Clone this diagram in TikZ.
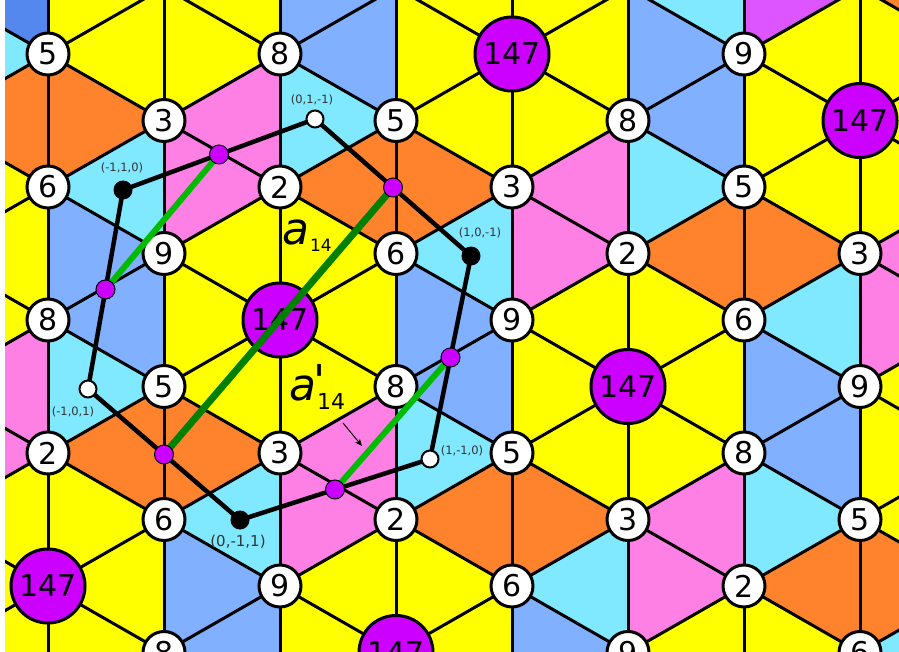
\documentclass[tikz,border=0pt]{standalone}
\usepackage{fontspec}
\setmainfont{DejaVu Sans}
\usetikzlibrary{arrows.meta,calc}
\definecolor{tyellow}{HTML}{FFFF00}
\definecolor{torange}{HTML}{FF832D}
\definecolor{tpink}{HTML}{FF80E4}
\definecolor{tcyan}{HTML}{80E8FF}
\definecolor{tblue}{HTML}{80B0FF}
\definecolor{tdarkblue}{HTML}{5588EE}
\definecolor{tviolet}{HTML}{DD55FF}
\definecolor{tpurple}{HTML}{CC00FF}
\definecolor{dkgreen}{HTML}{008000}
\definecolor{ltgreen}{HTML}{00BB00}
% colours of the two triangle kinds, by label index of the corner
\colorlet{triA0}{tyellow}\colorlet{triA1}{tpink}\colorlet{triA2}{tyellow}
\colorlet{triA3}{torange}\colorlet{triA4}{tblue}\colorlet{triA5}{tcyan}
\colorlet{triA6}{tyellow}
\colorlet{triB0}{tyellow}\colorlet{triB1}{tpink}\colorlet{triB2}{tyellow}
\colorlet{triB3}{tyellow}\colorlet{triB4}{tcyan}\colorlet{triB5}{tblue}
\colorlet{triB6}{torange}
\newcommand{\cellname}[1]{\ifcase#1\relax 147\or 3\or 9\or 5\or 6\or 8\or 2\fi}

\begin{document}
\begin{tikzpicture}[
    x=1pt, y=-1pt,
    edge/.style={line width=3pt, line cap=round},
    site/.style={circle, draw, line width=3pt, fill=white, minimum size=42pt, inner sep=0pt, font=\fontsize{30}{30}\selectfont},
    bigsite/.style={site, fill=tpurple, minimum size=74pt},
    ring/.style={line width=4.5pt},
    bdot/.style={circle, fill=black, minimum size=19pt, inner sep=0pt},
    wdot/.style={circle, draw, fill=white, line width=2pt, minimum size=17pt, inner sep=0pt},
    mdot/.style={circle, draw, fill=tpurple, line width=1pt, minimum size=19pt, inner sep=0pt},
    coordlabel/.style={font=\fontsize{11.5}{12}\selectfont, text=black!80, inner sep=0pt}
]
    \useasboundingbox (0,0) rectangle (899,652);
    \fill[white] (0,0) rectangle (899,652);
    \begin{scope}
    \clip (5,0) rectangle (899,652);

    % Coloured triangles
    \foreach \i in {-1,...,8}{
      \foreach \m in {-3,...,10}{
        \pgfmathtruncatemacro\p{mod(\i+\m+20,2)}
        \ifnum\p=0
          \pgfmathtruncatemacro\a{mod(\i+4*\m+73,7)}
          \pgfmathsetmacro\x{48+116*\i}
          \pgfmathsetmacro\y{54+66.5*\m}
          \fill[triA\a] (\x,\y) -- ++(0,133) -- ++(116,-66.5) -- cycle;
          \fill[triB\a] (\x,\y) -- ++(116,-66.5) -- ++(0,133) -- cycle;
        \fi
      }
    }
    \fill[tdarkblue] (-68,-12.5) -- (48,-79) -- (48,54) -- cycle;
    \fill[tviolet] (744,-79) -- (744,54) -- (860,-12.5) -- cycle;

    % Lattice edges
    \foreach \i in {-1,...,8}{
      \foreach \m in {-3,...,10}{
        \pgfmathtruncatemacro\p{mod(\i+\m+20,2)}
        \ifnum\p=0
          \pgfmathsetmacro\x{48+116*\i}
          \pgfmathsetmacro\y{54+66.5*\m}
          \draw[edge] (\x,\y) -- ++(0,133);
          \draw[edge] (\x,\y) -- ++(116,66.5);
          \draw[edge] (\x,\y) -- ++(116,-66.5);
        \fi
      }
    }

    % Lattice sites
    \foreach \i in {-1,...,8}{
      \foreach \m in {0,...,10}{
        \pgfmathtruncatemacro\p{mod(\i+\m+20,2)}
        \ifnum\p=0
          \pgfmathtruncatemacro\a{mod(\i+4*\m+73,7)}
          \pgfmathsetmacro\x{48+116*\i}
          \pgfmathsetmacro\y{54+66.5*\m}
          \ifnum\a=0
            \node[bigsite] (v\i-\m) at (\x,\y) {147};
          \else
            \node[site] (v\i-\m) at (\x,\y) {\cellname{\a}};
          \fi
        \fi
      }
    }

    % Hexagon of reciprocal vectors
    \coordinate (p01m1) at (315,119);
    \coordinate (pm110) at (123,190);
    \coordinate (pm101) at (88,389);
    \coordinate (p0m11) at (240,520);
    \coordinate (p1m10) at (430,459);
    \coordinate (p10m1) at (471,256);
    \coordinate (mid1) at ($(pm110)!0.5!(p01m1)$);
    \coordinate (mid2) at ($(p01m1)!0.5!(p10m1)$);
    \coordinate (mid3) at ($(p10m1)!0.5!(p1m10)$);
    \coordinate (mid4) at ($(p1m10)!0.5!(p0m11)$);
    \coordinate (mid5) at ($(p0m11)!0.5!(pm101)$);
    \coordinate (mid6) at ($(pm101)!0.5!(pm110)$);
    \draw[ring] (p01m1) -- (p10m1) -- (p1m10) -- (p0m11) -- (pm101) -- (pm110) -- cycle;

    % Green connectors
    \draw[dkgreen, line width=7pt] (mid5) -- (mid2);
    \draw[ltgreen, line width=6pt] (mid1) -- (mid6);
    \draw[ltgreen, line width=6pt] (mid3) -- (mid4);

    % Dots
    \node[wdot] (d01m1) at (p01m1) {};
    \node[bdot] (dm110) at (pm110) {};
    \node[wdot] (dm101) at (pm101) {};
    \node[bdot] (d0m11) at (p0m11) {};
    \node[wdot] (d1m10) at (p1m10) {};
    \node[bdot] (d10m1) at (p10m1) {};
    \foreach \k in {1,...,6}
      \node[mdot] (dmid\k) at (mid\k) {};

    % Labels
    \node[coordlabel] (l01m1) at (312,100) {(0,1,-1)};
    \node[coordlabel] (lm110) at (122,168) {(-1,1,0)};
    \node[coordlabel] (l10m1) at (480,233) {(1,0,-1)};
    \node[coordlabel] (lm101) at (73,412) {(-1,0,1)};
    \node[coordlabel] (l1m10) at (462,451) {(1,-1,0)};
    \node[coordlabel, font=\fontsize{15}{16}\selectfont] (l0m11) at (238,542) {(0,-1,1)};

    \node[anchor=base west, inner sep=0pt] (a14) at (282,245)
      {\fontsize{44}{44}\selectfont\itshape a\upshape\kern1pt\raisebox{-7pt}{\fontsize{17}{17}\selectfont 14}};
    \node[anchor=base west, inner sep=0pt] (a14p) at (289,400)
      {\fontsize{44}{44}\selectfont\itshape a\rlap{\kern-3pt\upshape\raisebox{4pt}{\textquotesingle}}\upshape\kern1pt\raisebox{-9pt}{\fontsize{22}{22}\selectfont 14}};

    \coordinate (arrtail) at (343,423);
    \coordinate (arrhead) at (362,446);
    \draw[line width=1pt, -{Stealth[length=7pt, width=6pt, inset=2pt]}] (arrtail) -- (arrhead);
    \end{scope}
\end{tikzpicture}
\end{document}
